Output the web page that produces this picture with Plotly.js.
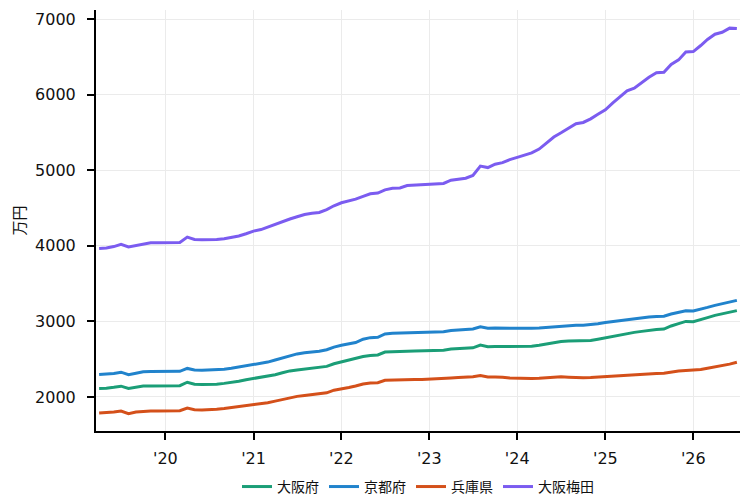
<!DOCTYPE html>
<html>
<head>
<meta charset="utf-8">
<script src="https://cdn.plot.ly/plotly-3.0.1.min.js"></script>
<style>html,body{margin:0;padding:0;background:#fff;}#chart{width:750px;height:502px;}</style>
</head>
<body>
<div id="chart"></div>
<script>
// Monthly, 2019-04 .. 2026-07
const startYear = 2019, startMonth = 4, nMonths = 88;
const months = [];
for (let i = 0; i < nMonths; i++) {
  const m0 = startMonth - 1 + i;
  const y = startYear + Math.floor(m0 / 12);
  const m = (m0 % 12) + 1;
  months.push(y + '-' + String(m).padStart(2, '0') + '-01');
}

const seriesNames = ['大阪府', '京都府', '兵庫県', '大阪梅田'];

const osaka = [
  2112, 2115, 2128, 2143, 2112, 2130, 2146, 2147, 2147,
  2147, 2147, 2150, 2195, 2168, 2165, 2165, 2170, 2180, 2190, 2208, 2228,
  2245, 2255, 2270, 2295, 2320, 2345, 2358, 2370, 2380, 2390, 2405, 2440,
  2465, 2485, 2505, 2535, 2550, 2556, 2595, 2602, 2604, 2606, 2608, 2609,
  2612, 2615, 2620, 2635, 2640, 2644, 2650, 2688, 2665, 2667, 2667, 2666,
  2667, 2668, 2672, 2685, 2700, 2718, 2735, 2740, 2741, 2742, 2748, 2765,
  2785, 2800, 2820, 2842, 2855, 2868, 2885, 2893, 2898, 2940, 2970, 3000,
  2996, 3020, 3050, 3080, 3100, 3125, 3143
];

const kyoto = [
  2298, 2302, 2312, 2328, 2295, 2315, 2335, 2338, 2338,
  2338, 2338, 2340, 2378, 2358, 2355, 2356, 2360, 2368, 2380, 2398, 2415,
  2435, 2445, 2462, 2490, 2515, 2545, 2570, 2585, 2595, 2605, 2625, 2660,
  2685, 2705, 2720, 2765, 2785, 2790, 2835, 2842, 2845, 2848, 2850, 2853,
  2855, 2858, 2862, 2880, 2887, 2893, 2900, 2928, 2910, 2912, 2910, 2908,
  2907, 2907, 2908, 2912, 2920, 2930, 2940, 2946, 2948, 2950, 2955, 2968,
  2985, 2998, 3010, 3025, 3035, 3045, 3058, 3066, 3068, 3098, 3120, 3142,
  3138, 3158, 3185, 3212, 3235, 3258, 3278
];

const hyogo = [
  1787, 1790, 1800, 1813, 1780, 1800, 1812, 1815, 1815,
  1816, 1817, 1818, 1853, 1832, 1828, 1830, 1838, 1848, 1860, 1872, 1888,
  1900, 1910, 1925, 1945, 1965, 1990, 2008, 2020, 2030, 2040, 2055, 2090,
  2105, 2125, 2145, 2172, 2185, 2188, 2220, 2225, 2228, 2230, 2231, 2232,
  2235, 2238, 2242, 2252, 2258, 2262, 2268, 2285, 2265, 2263, 2262, 2250,
  2245, 2245, 2245, 2248, 2255, 2262, 2267, 2262, 2255, 2255, 2258, 2265,
  2267, 2272, 2280, 2290, 2295, 2300, 2308, 2312, 2315, 2332, 2345, 2352,
  2355, 2365, 2380, 2396, 2412, 2435, 2459
];

const umeda = [
  3965, 3972, 3990, 4020, 3985, 4005, 4030, 4040, 4040,
  4040, 4042, 4045, 4115, 4085, 4080, 4080, 4085, 4095, 4110, 4130, 4160,
  4195, 4215, 4250, 4285, 4320, 4355, 4385, 4415, 4430, 4442, 4480, 4530,
  4570, 4595, 4617, 4655, 4688, 4698, 4740, 4762, 4765, 4797, 4802, 4806,
  4810, 4815, 4825, 4868, 4880, 4895, 4930, 5055, 5035, 5080, 5100, 5140,
  5170, 5200, 5230, 5280, 5360, 5440, 5495, 5550, 5615, 5632, 5680, 5740,
  5800, 5890, 5960, 6050, 6085, 6160, 6230, 6290, 6295, 6400, 6460, 6565,
  6570, 6650, 6730, 6800, 6825, 6880, 6875
];

const seriesValues = [osaka, kyoto, hyogo, umeda];
const colors = ['#1b9e77', '#2183cc', '#d4501a', '#7b5cf0'];

const xTickVals = ['2020-01-01','2021-01-01','2022-01-01','2023-01-01','2024-01-01','2025-01-01','2026-01-01'];
const xTickText = ["'20","'21","'22","'23","'24","'25","'26"];
const yTickVals = [2000, 3000, 4000, 5000, 6000, 7000];

const traces = seriesNames.map((name, i) => ({
  type: 'scatter',
  mode: 'lines',
  name: name,
  x: months,
  y: seriesValues[i],
  line: {color: colors[i], width: 3}
}));

const fontFam = 'DejaVu Sans, Noto Sans CJK JP, sans-serif';

const layout = {
  width: 750,
  height: 502,
  margin: {l: 96, r: 10, t: 10, b: 71, autoexpand: false},
  paper_bgcolor: '#ffffff',
  plot_bgcolor: '#ffffff',
  font: {family: fontFam, size: 16, color: '#111'},
  showlegend: true,
  legend: {
    orientation: 'h',
    x: 0.5, xanchor: 'center',
    yref: 'container',
    y: 0.03, yanchor: 'middle',
    font: {family: 'Noto Sans CJK JP, DejaVu Sans, sans-serif', size: 14, color: '#111'},
    itemwidth: 30,
    traceorder: 'normal'
  },
  xaxis: {
    type: 'date',
    range: ['2019-03-19', '2026-07-14'],
    tickvals: xTickVals,
    ticktext: xTickText,
    ticks: 'outside',
    ticklen: 7,
    tickwidth: 2,
    tickcolor: '#000',
    ticklabelstandoff: 5,
    showline: true,
    linecolor: '#000',
    linewidth: 2,
    showgrid: true,
    gridcolor: '#ebebeb',
    gridwidth: 1,
    zeroline: false,
    automargin: false,
    tickfont: {family: fontFam, size: 16, color: '#111'}
  },
  yaxis: {
    range: [1550, 7120],
    tickvals: yTickVals,
    ticks: 'outside',
    ticklen: 7,
    tickwidth: 2,
    tickcolor: '#000',
    ticklabelstandoff: 8,
    showline: true,
    linecolor: '#000',
    linewidth: 2,
    showgrid: true,
    gridcolor: '#ebebeb',
    gridwidth: 1,
    zeroline: false,
    automargin: false,
    tickfont: {family: fontFam, size: 16, color: '#111'},
    title: {text: '万円', font: {family: 'Noto Sans CJK JP, sans-serif', size: 15, color: '#111'}, standoff: 6}
  }
};

Plotly.newPlot('chart', traces, layout, {displayModeBar: false, staticPlot: true});
</script>
</body>
</html>
